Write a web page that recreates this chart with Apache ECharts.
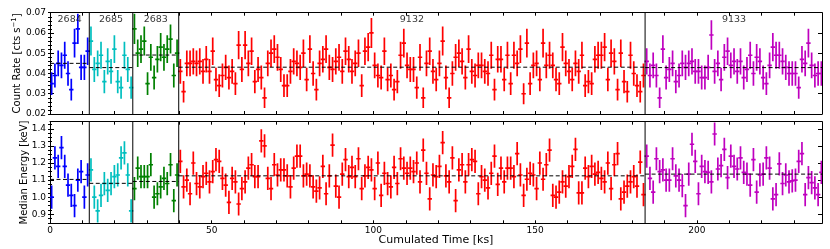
<!DOCTYPE html>
<html><head><meta charset="utf-8">
<script src="https://cdn.jsdelivr.net/npm/echarts@6/dist/echarts.min.js"></script>
<style>html,body{margin:0;padding:0;background:#fff}#c{width:830px;height:249px}</style>
</head><body><div id="c"></div>
<script>
// ---------- data ----------
const segNames = ['2684', '2685', '2683', '9132', '9133'];
const segStart = [0, 12.15, 25.6, 39.8, 184.0];
const segEnd = [12.15, 25.6, 39.8, 184.0, 239.0];
const segColors = ['#0000ff', '#00bfbf', '#008000', '#ff0000', '#bf00bf'];
const rateMeans = [0.045, 0.0429, 0.0491, 0.0431, 0.0429];
const energyMeans = [1.104, 1.081, 1.092, 1.125, 1.135];

const rate2684 = [0.035,0.039,0.045,0.044,0.049,0.040,0.032,0.055,0.062,0.043,0.043,0.051];
const rate2685 = [0.056,0.042,0.045,0.049,0.036,0.046,0.041,0.052,0.036,0.033,0.049,0.042,0.033];
const rate2683 = [0.062,0.050,0.052,0.056,0.035,0.048,0.038,0.047,0.053,0.048,0.052,0.057,0.039,0.050];
const rate9132 = [
 0.041,0.031,0.045,0.045,0.046,0.045,0.046,0.041,0.047,0.041,
 0.051,0.037,0.034,0.039,0.043,0.038,0.041,0.035,0.054,0.042,
 0.054,0.045,0.051,0.036,0.042,0.038,0.028,0.045,0.050,0.052,
 0.048,0.042,0.034,0.034,0.041,0.046,0.045,0.043,0.050,0.037,
 0.052,0.040,0.032,0.045,0.047,0.052,0.043,0.042,0.046,0.048,
 0.041,0.051,0.047,0.041,0.045,0.050,0.034,0.051,0.053,0.060,
 0.044,0.039,0.038,0.051,0.037,0.039,0.032,0.036,0.049,0.055,
 0.044,
 0.042,0.042,0.033,0.048,0.028,0.045,0.051,0.041,0.037,0.045,
 0.056,0.038,0.028,0.040,0.048,0.050,0.046,0.038,0.052,0.041,
 0.039,0.044,0.044,0.041,0.040,0.049,0.032,0.047,0.047,0.037,
 0.049,0.035,0.049,0.045,0.052,0.030,0.055,0.035,0.044,0.045,
 0.037,0.055,0.044,0.049,0.044,0.037,0.035,0.053,0.045,0.041,
 0.037,0.045,0.041,0.049,0.034,0.036,0.035,0.047,0.049,0.049,
 0.053,0.037,0.050,0.046,0.032,0.050,0.036,0.031,0.049,0.040,
 0.034,0.031,0.039];
const rate9133 = [
 0.046,0.039,0.044,0.039,0.028,0.052,0.038,0.042,0.045,0.036,
 0.039,0.045,0.043,0.045,0.046,0.041,0.041,0.038,0.038,0.043,
 0.059,0.041,0.045,0.037,0.048,0.051,0.044,0.046,0.041,0.046,
 0.038,0.042,0.049,0.040,0.048,0.046,0.038,0.035,0.044,0.053,
 0.049,0.049,0.046,0.043,0.040,0.040,0.040,0.033,0.047,0.045,
 0.055,0.044,0.039,0.040,0.040];

const energy2684 = [1.00,1.23,1.18,1.29,1.18,1.07,1.01,0.95,1.10,1.15,1.00,1.13];
const energy2685 = [1.16,1.00,0.92,1.01,1.08,1.04,1.08,1.12,1.13,1.23,1.26,1.13,0.92];
const energy2683 = [1.05,1.17,1.12,1.12,1.12,1.19,1.00,1.02,1.06,1.11,1.08,1.19,0.98,1.13];
const energy9132 = [
 1.21,1.06,1.10,1.02,1.20,1.08,1.06,1.12,1.14,1.09,
 1.15,1.22,1.21,1.11,1.07,0.97,1.11,1.09,0.96,1.05,
 1.09,1.17,1.19,1.12,1.12,1.33,1.30,1.11,1.05,1.19,
 1.13,1.16,1.16,1.125,1.06,1.17,1.24,1.24,1.125,1.135,
 1.125,1.06,1.035,1.055,1.18,1.02,1.125,1.305,1.065,1.00,
 1.135,1.22,1.12,1.175,1.12,1.225,1.05,1.125,1.175,1.16,
 1.05,1.20,1.01,1.14,1.08,1.06,1.175,1.08,1.225,1.17,
 1.14,
 1.17,1.15,1.20,1.09,1.275,1.14,0.99,1.13,1.12,1.18,
 1.32,1.125,1.09,1.23,0.98,1.16,1.19,1.09,1.19,1.22,
 1.21,1.02,1.12,1.10,1.055,1.14,1.24,1.075,1.17,1.09,
 1.17,1.17,1.12,1.255,1.13,1.01,1.105,1.14,1.13,1.05,
 1.20,1.105,1.19,1.275,1.01,1.00,1.03,1.09,1.065,1.12,
 1.18,1.28,1.025,1.025,1.17,1.12,1.18,1.135,1.145,1.11,
 1.09,1.20,1.05,1.19,1.255,0.99,1.03,1.065,1.09,1.12,
 1.065,1.205,1.015];
const energy9133 = [
 1.24,1.11,1.03,1.225,1.15,1.16,1.10,1.10,1.225,1.125,
 1.10,1.067,0.95,1.135,1.31,1.21,1.02,1.18,1.15,1.145,
 1.09,1.37,1.165,1.185,1.28,1.115,1.24,1.18,1.165,1.23,
 1.145,1.135,1.07,1.22,1.03,1.13,1.135,1.23,1.17,0.99,
 1.015,1.195,1.08,1.13,1.09,1.095,1.10,1.21,1.255,1.015,
 1.115,1.085,1.055,1.015,1.145];

const binExposure = 1100;   // s per bin (Poisson error on count rate)
const energyErr = 0.068;    // keV, half-length of energy error bars

const xTicks = [0,10,20,30,40,50,60,70,80,90,100,110,120,130,140,150,160,170,180,190,200,210,220,230];
const xLabels = [0, 50, 100, 150, 200];
const rateTicks = [0.02, 0.03, 0.04, 0.05, 0.06, 0.07];
const energyTicks = [0.9, 1.0, 1.1, 1.2, 1.3, 1.4];

// ---------- helpers ----------
const rateSeg = [rate2684, rate2685, rate2683, rate9132, rate9133];
const energySeg = [energy2684, energy2685, energy2683, energy9132, energy9133];
const FONT = 'DejaVu Sans';
function centers(k, n) {
  const w = (segEnd[k] - segStart[k]) / n;
  return Array.from({length: n}, (_, i) => segStart[k] + (i + 0.5) * w);
}
function minorList(lo, hi, step) {
  const out = [];
  for (let v = lo; v <= hi + 1e-9; v += step) out.push(+v.toFixed(4));
  return out;
}
const rateMinor = minorList(0.02, 0.07, 0.002);
const energyMinor = minorList(0.85, 1.44, 0.025);

function errRender(color) {
  return function (params, api) {
    const x = api.value(0), y = api.value(1), lo = api.value(2), hi = api.value(3);
    const a = api.coord([x, hi]), b = api.coord([x, lo]), c = api.coord([x, y]);
    const st = {stroke: color, lineWidth: 1.7};
    return {type: 'group', children: [
      {type: 'line', shape: {x1: a[0], y1: a[1], x2: b[0], y2: b[1]}, style: st},
      {type: 'line', shape: {x1: c[0] - 2.2, y1: c[1], x2: c[0] + 2.2, y2: c[1]}, style: st}
    ]};
  };
}

const RMIN = 0.02, RMAX = 0.07, EMIN = 0.847, EMAX = 1.442, XMAX = 238.7;

const series = [];
for (let k = 0; k < 5; k++) {
  const xs = centers(k, rateSeg[k].length);
  series.push({
    type: 'custom', xAxisIndex: 0, yAxisIndex: 0, clip: true, z: 3,
    renderItem: errRender(segColors[k]),
    data: rateSeg[k].map((v, i) => {
      const e = Math.sqrt(v * binExposure) / binExposure;
      return [xs[i], v, v - e, v + e];
    })
  });
  const xe = centers(k, energySeg[k].length);
  series.push({
    type: 'custom', xAxisIndex: 2, yAxisIndex: 4, clip: true, z: 3,
    renderItem: errRender(segColors[k]),
    data: energySeg[k].map((v, i) => [xe[i], v, v - energyErr, v + energyErr])
  });
  series.push({
    type: 'line', xAxisIndex: 0, yAxisIndex: 0, symbol: 'none', z: 5, silent: true,
    lineStyle: {color: '#000', width: 1, type: [4, 2.5]},
    data: [[segStart[k], rateMeans[k]], [Math.min(segEnd[k], XMAX), rateMeans[k]]]
  });
  series.push({
    type: 'line', xAxisIndex: 2, yAxisIndex: 4, symbol: 'none', z: 5, silent: true,
    lineStyle: {color: '#000', width: 1, type: [4, 2.5]},
    data: [[segStart[k], energyMeans[k]], [Math.min(segEnd[k], XMAX), energyMeans[k]]]
  });
}
for (let k = 1; k < 5; k++) {
  const b = segStart[k];
  series.push({type: 'line', xAxisIndex: 0, yAxisIndex: 0, symbol: 'none', z: 4, silent: true,
    lineStyle: {color: '#000', width: 1}, data: [[b, RMIN], [b, RMAX]]});
  series.push({type: 'line', xAxisIndex: 2, yAxisIndex: 4, symbol: 'none', z: 4, silent: true,
    lineStyle: {color: '#000', width: 1}, data: [[b, EMIN], [b, EMAX]]});
}
series.push({
  type: 'scatter', xAxisIndex: 0, yAxisIndex: 0, symbolSize: 0, z: 6, silent: true,
  data: segNames.map((n, k) => ({value: [(segStart[k] + segEnd[k]) / 2, 0.0668], name: n})),
  label: {show: true, position: 'inside', formatter: p => p.name, color: '#000', fontFamily: FONT, fontSize: 9.5}
});

const axLine = {show: true, lineStyle: {color: '#000', width: 1}};
function xAx(grid, pos, labels, name) {
  return {
    type: 'value', gridIndex: grid, position: pos, min: 0, max: XMAX,
    axisLine: {...axLine, onZero: false},
    axisTick: {show: true, inside: true, length: 3, customValues: xTicks, lineStyle: {color: '#000'}},
    axisLabel: labels ? {show: true, customValues: xLabels, margin: 3, fontFamily: FONT, fontSize: 9, color: '#000'} : {show: false},
    splitLine: {show: false},
    name: name || '', nameLocation: 'middle', nameGap: 11, nameMoveOverlap: false,
    nameTextStyle: {fontFamily: FONT, fontSize: 11, color: '#000', verticalAlign: 'top'}
  };
}
function yAx(grid, pos, min, max, ticks, len, labels, name, gap, line) {
  return {
    type: 'value', gridIndex: grid, position: pos, min, max,
    axisLine: line ? {...axLine, onZero: false} : {show: false},
    axisTick: {show: true, inside: true, length: len, customValues: ticks, lineStyle: {color: '#000'}},
    axisLabel: labels ? {show: true, customValues: ticks, margin: 4, fontFamily: FONT, fontSize: 9, color: '#000',
      formatter: v => (max < 1 ? v.toFixed(2) : v.toFixed(1))} : {show: false},
    splitLine: {show: false},
    name: name || '', nameLocation: 'middle', nameRotate: 90, nameGap: gap || 0, nameMoveOverlap: false,
    nameTextStyle: {fontFamily: FONT, fontSize: 10, color: '#000',
      rich: {a: {fontFamily: FONT, fontSize: 10, color: '#000'},
             s: {fontFamily: FONT, fontSize: 7, color: '#000', verticalAlign: 'top', padding: [0, 0, 5, 0]}}}
  };
}

const option = {
  animation: false,
  backgroundColor: '#fff',
  grid: [
    {left: 50, top: 12.7, width: 772, height: 101.3, outerBoundsMode: 'none', containLabel: false},
    {left: 50, top: 121.7, width: 772, height: 101.6, outerBoundsMode: 'none', containLabel: false}
  ],
  xAxis: [
    xAx(0, 'bottom', false), xAx(0, 'top', false),
    xAx(1, 'bottom', true, 'Cumulated Time [ks]'), xAx(1, 'top', false)
  ],
  yAxis: [
    yAx(0, 'left', RMIN, RMAX, rateTicks, 4, true, '{a|Count Rate [cts s}{s|\u22121}{a|]}', 27, true),
    yAx(0, 'right', RMIN, RMAX, rateTicks, 4, false, '', 0, true),
    yAx(0, 'left', RMIN, RMAX, rateMinor, 2, false, '', 0, false),
    yAx(0, 'right', RMIN, RMAX, rateMinor, 2, false, '', 0, false),
    yAx(1, 'left', EMIN, EMAX, energyTicks, 4, true, 'Median Energy [keV]', 21, true),
    yAx(1, 'right', EMIN, EMAX, energyTicks, 4, false, '', 0, true),
    yAx(1, 'left', EMIN, EMAX, energyMinor, 2, false, '', 0, false),
    yAx(1, 'right', EMIN, EMAX, energyMinor, 2, false, '', 0, false)
  ],
  series
};
const chart = echarts.init(document.getElementById('c'), null, {renderer: 'canvas'});
chart.setOption(option);
</script>
</body></html>
